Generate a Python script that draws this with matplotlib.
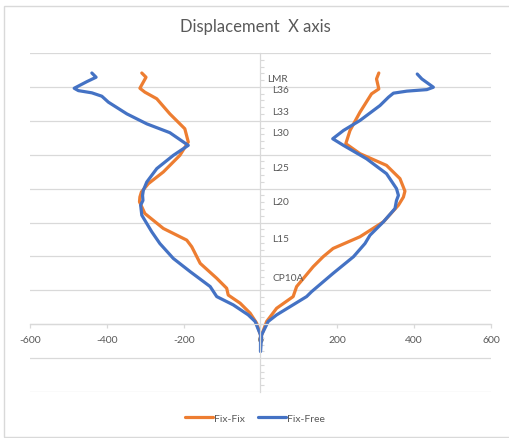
import matplotlib.pyplot as plt
from matplotlib.patches import Rectangle

# storey heights (m) vs displacement
fixfix_left_x = [-309, -298, -314, -301, -270, -236, -197, -188, -210, -253, -292, -310,
                 -314, -315, -301, -253, -192, -179, -157, -114, -88, -84, -53, -27, -10, 0, 0]
fixfix_left_y = [148.2, 145.7, 139.2, 136.9, 133, 124.1, 115.3, 107.5, 99.6, 89.8, 82.9, 78,
                 75, 72.2, 65.3, 56.5, 49.6, 45.7, 35.9, 27.1, 21.2, 17.2, 12.4, 6.5, 0.6, -6.3, -10]
fixfix_right_x = [308, 302, 308, 289, 259, 233, 222, 259, 328, 363, 376, 372, 359,
                  320, 259, 189, 163, 137, 94, 85, 42, 16, 3, 0]
fixfix_right_y = [148.2, 144.7, 138.8, 135.9, 125.1, 114.3, 106.5, 100.6, 93.7, 85.9, 78.5, 75, 70.2,
                  60.4, 51.6, 44.7, 39.8, 33.9, 22.2, 16.3, 9.4, 1.6, -6.3, -10]

fixfree_left_x = [-439, -428, -452, -485, -474, -439, -413, -396, -348, -296, -236, -188, -227,
                  -270, -296, -305, -307, -306, -312, -309, -283, -262, -227, -183, -131, -114, -71,
                  -32, -14, 0, 0]
fixfree_left_y = [148.2, 145.7, 143.1, 139.2, 137.8, 136.5, 134.5, 131, 124.1, 118.2, 113, 105.5, 99.6,
                  91.8, 83.9, 79, 76, 73, 70.2, 64.3, 54.5, 47.6, 38.8, 31, 22.2, 16.3, 11.4,
                  5.5, 1.6, -6.3, -16]
fixfree_right_x = [408, 420, 450, 433, 381, 346, 333, 311, 259, 216, 188, 216, 276, 328, 354, 359, 354,
                   350, 320, 285, 272, 242, 189, 133, 120, 42, 20, 3, 0]
fixfree_right_y = [147.6, 144.7, 139.8, 138.4, 137.5, 136.3, 133.9, 129, 120.2, 114.3, 109.4, 105.5, 97.6,
                   88.8, 80, 76, 73, 68.2, 60.4, 52.5, 47.6, 39.8, 30, 19.2, 16.3, 5.5, 1.6, -6.3, -16]

storey_labels = ['LMR', 'L36', 'L33', 'L30', 'L25', 'L20', 'L15', 'CP10A']
storey_label_x = [17, 30, 30, 30, 30, 30, 30, 30]
storey_label_y = [144.7, 138.4, 125.3, 113, 92.2, 72.2, 50.8, 27.5]

x_ticks = [-600, -400, -200, 0, 200, 400, 600]

orange = '#ED7D31'
blue = '#4472C4'
grid_c = '#D9D9D9'
text_c = '#595959'

plt.rcParams['font.family'] = ['Lato', 'DejaVu Sans']

fig = plt.figure(figsize=(5.1, 4.39), dpi=100)
ax = fig.add_axes([30 / 510, 1 - 393 / 439, 461 / 510, (393 - 54) / 439])

ax.plot(fixfix_left_x, fixfix_left_y, color=orange, lw=2.3, label='Fix-Fix',
        solid_capstyle='round', solid_joinstyle='round')
ax.plot(fixfix_right_x, fixfix_right_y, color=orange, lw=2.3,
        solid_capstyle='round', solid_joinstyle='round')
ax.plot(fixfree_left_x, fixfree_left_y, color=blue, lw=2.3, label='Fix-Free',
        solid_capstyle='round', solid_joinstyle='round')
ax.plot(fixfree_right_x, fixfree_right_y, color=blue, lw=2.3,
        solid_capstyle='round', solid_joinstyle='round')

for lab, lx, ly in zip(storey_labels, storey_label_x, storey_label_y):
    ax.text(lx, ly, lab, fontsize=7.3, color=text_c, ha='left', va='center')

ax.set_xlim(-600, 600)
ax.set_ylim(-40, 160)
ax.set_xticks(x_ticks)
ax.set_xticklabels([str(v) for v in x_ticks])
ax.set_yticks(range(-40, 161, 20))
ax.set_yticks(range(-40, 161, 4), minor=True)
ax.set_yticklabels([])
ax.grid(axis='y', color=grid_c, lw=0.9)
ax.set_axisbelow(True)

for s in ['top', 'right']:
    ax.spines[s].set_visible(False)
ax.spines['bottom'].set_position(('data', 0))
ax.spines['left'].set_position(('data', 0))
ax.spines['bottom'].set_color(grid_c)
ax.spines['left'].set_color(grid_c)
ax.spines['bottom'].set_linewidth(0.9)
ax.spines['left'].set_linewidth(0.9)
ax.tick_params(axis='x', colors=grid_c, labelcolor=text_c, labelsize=7.5, length=3, width=0.9, pad=5)
ax.tick_params(axis='y', which='both', direction='in', colors=grid_c, length=3, width=0.8)
ax.tick_params(axis='y', which='major', length=0)

fig.text(0.5, 1 - 27 / 439, 'Displacement  X axis', ha='center', va='center', fontsize=12, color=text_c)

fig.legend(loc='center', bbox_to_anchor=(0.5, 1 - 419 / 439), ncol=2, frameon=False,
           fontsize=7.5, handlelength=2.7, columnspacing=1.2, handletextpad=0.1, labelcolor=text_c)

fig.patches.append(Rectangle((4 / 510, 1.5 / 439), 520 / 510, 431 / 439, transform=fig.transFigure,
                             fill=False, edgecolor=grid_c, lw=1))

fig.savefig('out.png', dpi=100)
